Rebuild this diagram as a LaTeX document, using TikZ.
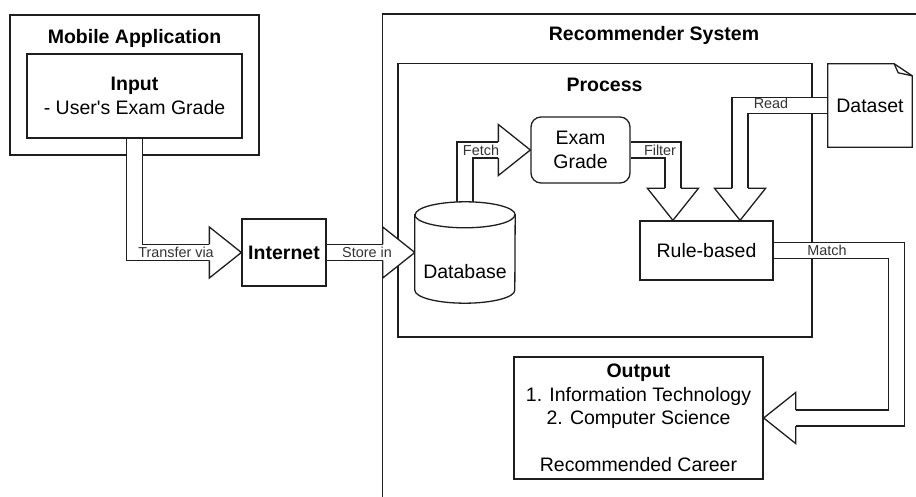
\documentclass[tikz,border=0pt]{standalone}
\usepackage{fontspec}
\setmainfont{Liberation Sans}
\usetikzlibrary{calc}
\pgfdeclarelayer{bg}
\pgfdeclarelayer{fg}
\pgfsetlayers{bg,main,fg}
\definecolor{ln}{RGB}{30,30,30}
\definecolor{lbl}{RGB}{51,51,51}
\tikzset{
  box/.style={draw=ln, line width=1.3pt, inner sep=0pt, align=center,
    font=\fontsize{19.5}{23.5}\selectfont},
  ttl/.style={font=\bfseries\fontsize{19.5}{23.5}\selectfont, inner sep=0pt},
  txt/.style={font=\fontsize{19.5}{23.5}\selectfont, inner sep=0pt, align=center},
  lab/.style={font=\fontsize{14.4}{16}\selectfont, text=lbl, inner sep=0pt},
  shaft/.style={draw=ln, line width=1.3pt, double=white, double distance=14.7pt, line join=miter},
  outl/.style={draw=ln, line width=1.3pt, line join=miter},
}
\newcommand\flexhead[2]{%
  \begin{scope}[shift={#1}, rotate=#2]
    \fill[white] (0pt,0pt) -- (-32pt,25.5pt) -- (-32pt,-25.5pt) -- cycle;
    \draw[outl] (-32pt,8pt) -- (-32pt,25.5pt) -- (0pt,0pt) -- (-32pt,-25.5pt) -- (-32pt,-8pt);
  \end{scope}}
\begin{document}
\begin{tikzpicture}[x=1pt,y=-1pt]
\useasboundingbox (0,0) rectangle (916,497);

% containers
\begin{pgfonlayer}{bg}
  \node[box, minimum width=249pt, minimum height=140pt] (mobile) at (134.5,85) {};
  \node[ttl] (mobiletitle) at (134.5,38) {Mobile Application};
  \node[box, anchor=north west, minimum width=600pt, minimum height=520pt] (recsys) at (382,13.5) {};
  \node[ttl] (rectitle) at (654,35.5) {Recommender System};
  \node[box, minimum width=414pt, minimum height=273.5pt] (process) at (605,200.25) {};
  \node[ttl] (proctitle) at (604.5,85) {Process};
\end{pgfonlayer}

% inner nodes
\begin{pgfonlayer}{fg}
  \node[box, minimum width=215pt, minimum height=84pt] (input) at (134.5,96)
    {\textbf{Input}\\- User\textquotesingle s Exam Grade};
  \node[box, minimum width=84pt, minimum height=67pt] (internet) at (284,252.5) {\textbf{Internet}};
  \node[inner sep=0pt, minimum width=100pt, minimum height=101pt] (db) at (465,252.5) {};
  \draw[outl, fill=white] ([yshift=-13pt]db.north west) -- ([yshift=13pt]db.south west)
    arc[start angle=180, end angle=360, x radius=50pt, y radius=13pt]
    -- ([yshift=-13pt]db.north east)
    arc[start angle=0, end angle=180, x radius=50pt, y radius=13pt] -- cycle;
  \draw[outl] ([yshift=-13pt]db.north west) arc[start angle=180, end angle=360, x radius=50pt, y radius=13pt];
  \node[txt] (dbtext) at ([yshift=-19.5pt]db.center) {Database};
  \node[box, rounded corners=10pt, minimum width=99pt, minimum height=66pt] (exam) at (580.5,150) {Exam\\Grade};
  \node[box, minimum width=133pt, minimum height=59pt] (rule) at (706.5,250.5) {Rule-based};
  \node[txt, minimum width=84pt, minimum height=83pt] (dataset) at (870,105.5) {Dataset};
  \draw[outl] (dataset.north west) -- ([xshift=-18pt]dataset.north east) -- ([yshift=-12pt]dataset.north east)
    -- (dataset.south east) -- (dataset.south west) -- cycle;
  \draw[outl] ([xshift=-18pt]dataset.north east) -- ([xshift=-14pt,yshift=-9pt]dataset.north east)
    -- ([yshift=-12pt]dataset.north east);
  \node[box, minimum width=249pt, minimum height=122pt] (output) at (638.5,418)
    {\textbf{Output}\\1. Information Technology\\2. Computer Science\\[23.5pt]Recommended Career};
\end{pgfonlayer}

% flex arrows
\coordinate (ftip) at ($(rule.north west)!0.25!(rule.north east)$);
\coordinate (rtip) at ($(rule.north west)!0.75!(rule.north east)$);
\coordinate (mcorner) at ([xshift=122.5pt]rule.east);

\draw[shaft] (input.south) |- ([xshift=-32pt]internet.west);
\flexhead{(internet.west)}{0}
\draw[shaft] (internet.east) -- ([xshift=-32pt]db.west);
\flexhead{(db.west)}{0}
\draw[shaft] (db.north) |- ([xshift=-32pt]exam.west);
\flexhead{(exam.west)}{0}
\draw[shaft] (exam.east) -| ([yshift=32pt]ftip);
\flexhead{(ftip)}{-90}
\draw[shaft] (dataset.west) -| ([yshift=32pt]rtip);
\flexhead{(rtip)}{-90}
\draw[shaft] (rule.east) -- (mcorner) |- ([xshift=32pt]output.east);
\flexhead{(output.east)}{180}

% arrow labels
\begin{pgfonlayer}{fg}
  \node[lab] (l1) at (176,252) {Transfer via};
  \node[lab] (l2) at (367,252) {Store in};
  \node[lab] (l3) at (481,150) {Fetch};
  \node[lab] (l4) at (660,150) {Filter};
  \node[lab] (l5) at (771,103) {Read};
  \node[lab] (l6) at (827,250) {Match};
\end{pgfonlayer}
\end{tikzpicture}
\end{document}
